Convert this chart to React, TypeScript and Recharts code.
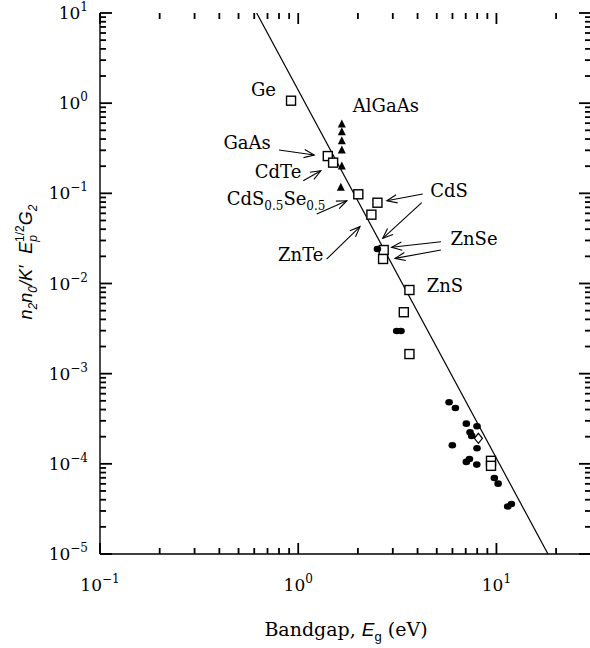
import { ScatterChart, Scatter, XAxis, YAxis, ReferenceLine } from "recharts";

// Open squares (measured points)
const squares = [
  { x: 0.92, y: 1.065 },
  { x: 1.41, y: 0.259 },
  { x: 1.5, y: 0.219 },
  { x: 2.01, y: 0.0976 },
  { x: 2.51, y: 0.0787 },
  { x: 2.34, y: 0.058 },
  { x: 2.7, y: 0.0235 },
  { x: 2.68, y: 0.0187 },
  { x: 3.64, y: 0.00847 },
  { x: 3.41, y: 0.0048 },
  { x: 3.64, y: 0.00165 },
  { x: 9.39, y: 1.08e-4 },
  { x: 9.39, y: 9.5e-5 },
];

// AlGaAs, filled triangles
const triangles = [
  { x: 1.66, y: 0.588 },
  { x: 1.66, y: 0.483 },
  { x: 1.66, y: 0.384 },
  { x: 1.66, y: 0.303 },
  { x: 1.66, y: 0.201 },
  { x: 1.64, y: 0.117 },
];

// Filled circles
const circles = [
  { x: 2.51, y: 0.0241 },
  { x: 3.14, y: 0.00297 },
  { x: 3.3, y: 0.00297 },
  { x: 5.77, y: 4.82e-4 },
  { x: 6.21, y: 4.16e-4 },
  { x: 7.05, y: 2.79e-4 },
  { x: 7.98, y: 2.61e-4 },
  { x: 7.36, y: 2.24e-4 },
  { x: 7.5, y: 2.04e-4 },
  { x: 5.99, y: 1.61e-4 },
  { x: 7.98, y: 1.49e-4 },
  { x: 7.05, y: 1.05e-4 },
  { x: 7.31, y: 1.13e-4 },
  { x: 7.96, y: 9.8e-5 },
  { x: 9.76, y: 6.97e-5 },
  { x: 10.2, y: 6.03e-5 },
  { x: 11.4, y: 3.37e-5 },
  { x: 11.9, y: 3.59e-5 },
];

// Open diamond
const diamonds = [{ x: 8.11, y: 1.92e-4 }];

// Fitted line, Eg^-4
const fitLine = [
  { x: 0.617, y: 10 },
  { x: 18.2, y: 1e-5 },
];

// Material labels ("_{..}" is a subscript)
const labels = [
  { x: 0.668, y: 1.2, text: "Ge" },
  { x: 2.77, y: 0.804, text: "AlGaAs" },
  { x: 0.552, y: 0.31, text: "GaAs" },
  { x: 0.791, y: 0.149, text: "CdTe" },
  { x: 0.773, y: 0.0743, text: "CdS_{0.5}Se_{0.5}" },
  { x: 1.03, y: 0.0179, text: "ZnTe" },
  { x: 5.77, y: 0.0918, text: "CdS" },
  { x: 7.71, y: 0.0267, text: "ZnSe" },
  { x: 5.5, y: 0.0081, text: "ZnS" },
];

// Arrows: tail -> head
const arrows = [
  { x1: 0.8, y1: 0.303, x2: 1.205, y2: 0.266 },
  { x1: 1.06, y1: 0.138, x2: 1.3, y2: 0.178 },
  { x1: 1.24, y1: 0.059, x2: 1.76, y2: 0.0828 },
  { x1: 1.39, y1: 0.0186, x2: 2.05, y2: 0.0427 },
  { x1: 4.25, y1: 0.0984, x2: 2.8, y2: 0.0828 },
  { x1: 4.2, y1: 0.0787, x2: 2.67, y2: 0.0317 },
  { x1: 5.25, y1: 0.0291, x2: 2.96, y2: 0.0252 },
  { x1: 5.25, y1: 0.0235, x2: 3.08, y2: 0.019 },
];

const X_MIN = 0.1;
const X_MAX = 30;
const Y_MIN = 1e-5;
const Y_MAX = 10;

const xMajor = [0.1, 1, 10];
const yMajor = [1e-5, 1e-4, 1e-3, 1e-2, 1e-1, 1, 10];
const minorSteps = [2, 3, 4, 5, 6, 7, 8, 9];
const xMinor = [...[0.1, 1].flatMap((d) => minorSteps.map((m) => m * d)), 20];
const yMinor = yMajor.slice(0, -1).flatMap((d) => minorSteps.map((m) => m * d));

// chart box; the plot area follows from margins and axis sizes
const W = 600;
const H = 648;
const MARGIN = { top: 13, right: 9, bottom: 64, left: 40 };
const Y_AXIS_W = 60;
const X_AXIS_H = 30;
const PLOT = {
  left: MARGIN.left + Y_AXIS_W,
  right: W - MARGIN.right,
  top: MARGIN.top,
  bottom: H - MARGIN.bottom - X_AXIS_H,
};
const lg = Math.log10;
const xPix = (v: number) =>
  PLOT.left + ((lg(v) - lg(X_MIN)) / (lg(X_MAX) - lg(X_MIN))) * (PLOT.right - PLOT.left);
const yPix = (v: number) =>
  PLOT.bottom - ((lg(v) - lg(Y_MIN)) / (lg(Y_MAX) - lg(Y_MIN))) * (PLOT.bottom - PLOT.top);

const FONT = '"DejaVu Serif", serif';
const MATH = '"Liberation Sans", sans-serif';
const INK = "#000";

const expText = (v: number) => {
  const e = Math.round(Math.log10(v));
  return e < 0 ? "\u2212" + -e : String(e);
};

const XTick = (props: any) => {
  const { x, y, payload } = props;
  if (!xMajor.includes(payload.value)) return <g />;
  return (
    <text x={x} y={Number(y) + 37} textAnchor="middle" fontFamily={FONT} fontSize={17} fill={INK}>
      10
      <tspan dy={-8} fontSize={12}>
        {expText(payload.value)}
      </tspan>
    </text>
  );
};

const YTick = (props: any) => {
  const { x, y, payload } = props;
  if (!yMajor.includes(payload.value)) return <g />;
  return (
    <text x={Number(x) - 12} y={Number(y) + 6} textAnchor="end" fontFamily={FONT} fontSize={17} fill={INK}>
      10
      <tspan dy={-8} fontSize={12}>
        {expText(payload.value)}
      </tspan>
    </text>
  );
};

// inward tick marks on all four sides of the frame
const FrameTicks = () => {
  const xs = [...xMajor.map((v) => [v, 11]), ...xMinor.map((v) => [v, 6])];
  const ys = [...yMajor.map((v) => [v, 12]), ...yMinor.map((v) => [v, 6])];
  return (
    <g fill={INK}>
      {xs.map(([v, len], i) => {
        const px = xPix(v);
        return (
          <g key={"x" + i}>
            <rect x={px - 0.9} y={PLOT.bottom - len} width={1.8} height={len} />
            <rect x={px - 0.9} y={PLOT.top} width={1.8} height={len} />
          </g>
        );
      })}
      {ys.map(([v, len], i) => {
        const py = yPix(v);
        return (
          <g key={"y" + i}>
            <rect x={PLOT.left} y={py - 0.9} width={len} height={1.8} />
            <rect x={PLOT.right - len} y={py - 0.9} width={len} height={1.8} />
          </g>
        );
      })}
    </g>
  );
};

const SquareShape = (p: any) => (
  <rect x={p.cx - 4.5} y={p.cy - 4.5} width={9} height={9} fill="#fff" stroke={INK} strokeWidth={1.4} />
);
const CircleShape = (p: any) => <ellipse cx={p.cx} cy={p.cy} rx={3.8} ry={3.3} fill={INK} />;
const TriangleShape = (p: any) => (
  <polygon points={`${p.cx},${p.cy - 4.5} ${p.cx - 4},${p.cy + 3.5} ${p.cx + 4},${p.cy + 3.5}`} fill={INK} />
);
const DiamondShape = (p: any) => (
  <polygon
    points={`${p.cx},${p.cy - 5} ${p.cx + 4},${p.cy} ${p.cx},${p.cy + 5} ${p.cx - 4},${p.cy}`}
    fill="none"
    stroke={INK}
    strokeWidth={1.2}
  />
);

const LabelShape = (p: any) => {
  const parts = String(p.payload.text).split(/_\{([^}]*)\}/);
  return (
    <text x={p.cx} y={p.cy} dy="0.36em" textAnchor="middle" fontFamily={FONT} fontSize={18} fill={INK}>
      {parts.map((s, i) =>
        i % 2 === 1 ? (
          <tspan key={i} fontSize={12} dy={5}>
            {s}
          </tspan>
        ) : (
          <tspan key={i} dy={i > 0 ? -5 : 0}>
            {s}
          </tspan>
        )
      )}
    </text>
  );
};

const ArrowShape = (p: any) => {
  const { x1, y1, x2, y2 } = p;
  const a = Math.atan2(y2 - y1, x2 - x1);
  const L = 11;
  const w = 0.38;
  const hx1 = x2 - L * Math.cos(a - w);
  const hy1 = y2 - L * Math.sin(a - w);
  const hx2 = x2 - L * Math.cos(a + w);
  const hy2 = y2 - L * Math.sin(a + w);
  return (
    <g stroke={INK} strokeWidth={1.1} fill="none">
      <line x1={x1} y1={y1} x2={x2} y2={y2} />
      <polyline points={`${hx1},${hy1} ${x2},${y2} ${hx2},${hy2}`} />
    </g>
  );
};

export default function App() {
  return (
    <div
      style={{
        position: "absolute",
        left: 0,
        top: 0,
        width: 590,
        height: 648,
        overflow: "hidden",
        background: "#fff",
      }}
    >
      <ScatterChart width={W} height={H} margin={MARGIN}>
        <XAxis
          dataKey="x"
          type="number"
          scale="log"
          domain={[X_MIN, X_MAX]}
          allowDataOverflow
          ticks={xMajor}
          interval={0}
          height={X_AXIS_H}
          tickSize={0}
          tickMargin={0}
          axisLine={{ stroke: INK, strokeWidth: 1.4 }}
          tickLine={false}
          tick={(p: any) => <XTick {...p} />}
        />
        <XAxis
          xAxisId="top"
          orientation="top"
          type="number"
          scale="log"
          domain={[X_MIN, X_MAX]}
          allowDataOverflow
          height={0}
          axisLine={{ stroke: INK, strokeWidth: 1.4 }}
          tickLine={false}
          tick={false}
        />
        <YAxis
          dataKey="y"
          type="number"
          scale="log"
          domain={[Y_MIN, Y_MAX]}
          allowDataOverflow
          ticks={yMajor}
          interval={0}
          width={Y_AXIS_W}
          tickSize={0}
          tickMargin={0}
          axisLine={{ stroke: INK, strokeWidth: 1.4 }}
          tickLine={false}
          tick={(p: any) => <YTick {...p} />}
        />
        <YAxis
          yAxisId="right"
          orientation="right"
          type="number"
          scale="log"
          domain={[Y_MIN, Y_MAX]}
          allowDataOverflow
          width={0}
          axisLine={{ stroke: INK, strokeWidth: 1.4 }}
          tickLine={false}
          tick={false}
        />
        <Scatter
          data={fitLine}
          line={{ stroke: INK, strokeWidth: 1.2 }}
          shape={() => <g />}
          isAnimationActive={false}
        />
        {arrows.map((a, i) => (
          <ReferenceLine
            key={i}
            segment={[
              { x: a.x1, y: a.y1 },
              { x: a.x2, y: a.y2 },
            ]}
            shape={ArrowShape}
            ifOverflow="visible"
          />
        ))}
        <Scatter data={squares} shape={SquareShape} isAnimationActive={false} />
        <Scatter data={triangles} shape={TriangleShape} isAnimationActive={false} />
        <Scatter data={circles} shape={CircleShape} isAnimationActive={false} />
        <Scatter data={diamonds} shape={DiamondShape} isAnimationActive={false} />
        <Scatter data={labels} shape={LabelShape} isAnimationActive={false} />
      </ScatterChart>
      <svg
        width={590}
        height={648}
        style={{ position: "absolute", left: 0, top: 0, pointerEvents: "none" }}
      >
        <FrameTicks />
        <text
          transform="translate(32,262) rotate(-90)"
          textAnchor="middle"
          fontFamily={MATH}
          fontStyle="italic"
          fontSize={18}
          fill={INK}
        >
          n<tspan fontSize={12} dy={5}>2</tspan>
          <tspan dy={-5}>n</tspan>
          <tspan fontSize={12} dy={5}>0</tspan>
          <tspan dy={-5}>/K′</tspan>
          <tspan dx={12}>E</tspan>
          <tspan fontSize={12} dy={5}>p</tspan>
          <tspan fontSize={12} dx={-7} dy={-13} fontStyle="normal">1/2</tspan>
          <tspan dy={8}>G</tspan>
          <tspan fontSize={12} dy={5}>2</tspan>
        </text>
        <text x={346} y={636} textAnchor="middle" fontFamily={FONT} fontSize={19} fill={INK}>
          Bandgap,{" "}
          <tspan fontFamily={MATH} fontStyle="italic">E</tspan>
          <tspan fontFamily={MATH} fontSize={13} dy={5}>g</tspan>
          <tspan dy={-5}> (eV)</tspan>
        </text>
      </svg>
    </div>
  );
}
